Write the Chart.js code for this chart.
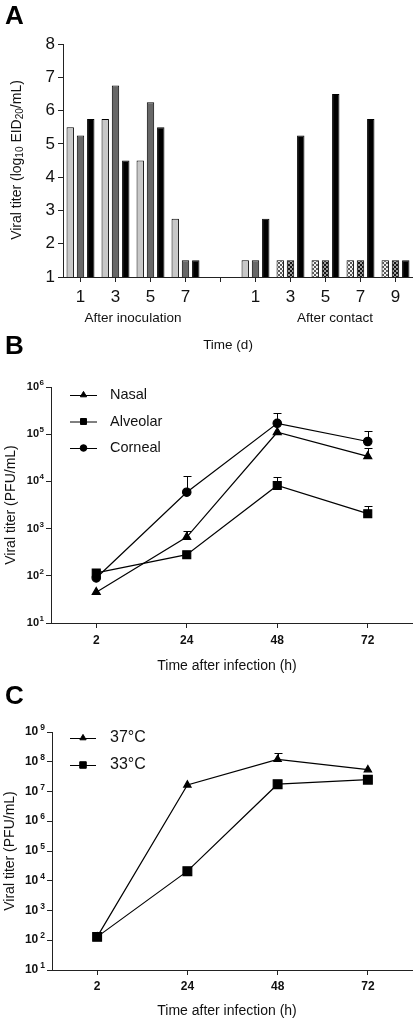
<!DOCTYPE html>
<html>
<head>
<meta charset="utf-8">
<script src="https://cdn.jsdelivr.net/npm/chart.js@4.4.1/dist/chart.umd.min.js"></script>
<style>
    body { margin: 0; background: #fff; }
    #wrap { position: relative; width: 413px; height: 1020px; overflow: hidden; }
    .box { position: absolute; left: 0; width: 413px; }
    .letter { position: absolute; left: 5px; font: bold 26px "Liberation Sans", Arial, sans-serif; line-height: 1; color: #000; }
</style>
</head>
<body>
<div id="wrap">
    <div class="box" style="top:0"><canvas id="chartA" width="413" height="355"></canvas></div>
    <div class="box" style="top:355px"><canvas id="chartB" width="413" height="320"></canvas></div>
    <div class="box" style="top:675px"><canvas id="chartC" width="413" height="345"></canvas></div>
    <div class="letter" style="top:2px">A</div>
    <div class="letter" style="top:332px">B</div>
    <div class="letter" style="top:682px">C</div>
</div>
<script>
// ---- panel A : titres (log10 EID20/mL), jours apres inoculation / contact
const daysA = ["1", "3", "5", "7", "", "1", "3", "5", "7", "9"];
const birdLight = [5.5, 5.75, 4.5, 2.75, null, 1.5, 1.5, 1.5, 1.5, 1.5];
const birdDark = [5.25, 6.75, 6.25, 1.5, null, 1.5, 1.5, 1.5, 1.5, 1.5];
const birdBlack = [5.75, 4.5, 5.5, 1.5, null, 2.75, 5.25, 6.5, 5.75, 1.5];
const checkered = [false, false, false, false, false, false, true, true, true, true];
const groupLabels = ["After inoculation", "After contact"];

// ---- panel B : PFU/mL par type cellulaire
const hoursB = ["2", "24", "48", "72"];
const nasal = [45, 660, 1.1e5, 3.4e4];
const nasalErr = [null, 900, null, 5e4];
const alveolar = [115, 280, 8200, 2070];
const alveolarErr = [130, null, 1.23e4, 2950];
const corneal = [90, 5900, 1.7e5, 7e4];
const cornealErr = [null, 1.32e4, 2.8e5, 1.17e5];
const ticksB = [1e1, 1e2, 1e3, 1e4, 1e5, 1e6];

// ---- panel C : PFU/mL selon la temperature
const hoursC = ["2", "24", "48", "72"];
const temp37 = [130, 1.66e7, 1.2e8, 5.4e7];
const temp37Err = [null, null, 2e8, null];
const temp33 = [130, 2.1e4, 1.76e7, 2.5e7];
const ticksC = [1e1, 1e2, 1e3, 1e4, 1e5, 1e6, 1e7, 1e8, 1e9];

const FONT = '"Liberation Sans", Arial, Helvetica, sans-serif';
const INK = "#111";
const AXIS = "#222";
Chart.defaults.font.family = FONT;
Chart.defaults.color = INK;

function checker(ctx, base, dots) {
    const p = document.createElement("canvas");
    p.width = 4;
    p.height = 4;
    const g = p.getContext("2d");
    g.fillStyle = base;
    g.fillRect(0, 0, 4, 4);
    g.fillStyle = dots;
    g.fillRect(0, 0, 2, 2);
    g.fillRect(2, 2, 2, 2);
    return ctx.createPattern(p, "repeat");
}

// texte simple a des positions fixes
function textPlugin(items) {
    return {
        id: "texts",
        afterDraw(chart) {
            const ctx = chart.ctx;
            ctx.save();
            ctx.fillStyle = INK;
            ctx.textBaseline = "middle";
            items.forEach((t) => {
                ctx.save();
                ctx.translate(t.x, t.y);
                if (t.rotate) ctx.rotate(-Math.PI / 2);
                // segments : [texte, taille, decalage vertical]
                const segs = t.segs || [[t.text, t.size, 0]];
                let total = 0;
                segs.forEach((s) => {
                    ctx.font = s[1] + "px " + FONT;
                    total += ctx.measureText(s[0]).width;
                });
                let x = -total / 2;
                ctx.textAlign = "left";
                segs.forEach((s) => {
                    ctx.font = s[1] + "px " + FONT;
                    ctx.fillText(s[0], x, s[2]);
                    x += ctx.measureText(s[0]).width;
                });
                ctx.restore();
            });
            ctx.restore();
        },
    };
}

// etiquettes 10^n de l'axe log
function powerLabels(gap, big, small) {
    return {
        id: "powerLabels",
        afterDraw(chart) {
            const ctx = chart.ctx;
            const s = chart.scales.y;
            const right = s.right - 7;
            ctx.save();
            ctx.fillStyle = INK;
            ctx.textBaseline = "alphabetic";
            ctx.textAlign = "left";
            s.ticks.forEach((t) => {
                const exp = String(Math.round(Math.log10(t.value)));
                const yy = s.getPixelForValue(t.value);
                ctx.font = "bold " + small + "px " + FONT;
                const we = ctx.measureText(exp).width;
                ctx.font = "bold " + big + "px " + FONT;
                const wb = ctx.measureText("10").width;
                const x0 = right - we - gap - wb;
                ctx.fillText("10", x0, yy + 3);
                ctx.font = "bold " + small + "px " + FONT;
                ctx.fillText(exp, x0 + wb + gap, yy - 2);
            });
            ctx.restore();
        },
    };
}

const errorBars = {
    id: "errorBars",
    afterDatasetsDraw(chart) {
        const ctx = chart.ctx;
        const y = chart.scales.y;
        ctx.save();
        ctx.strokeStyle = "#000";
        ctx.lineWidth = 1;
        chart.data.datasets.forEach((ds, i) => {
            if (!ds.errTop) return;
            const meta = chart.getDatasetMeta(i);
            ds.errTop.forEach((v, j) => {
                if (v == null) return;
                const pt = meta.data[j];
                const x = Math.round(pt.x) + 0.5;
                const top = Math.round(y.getPixelForValue(v)) + 0.5;
                ctx.beginPath();
                ctx.moveTo(x, pt.y);
                ctx.lineTo(x, top);
                ctx.moveTo(x - 4, top);
                ctx.lineTo(x + 4, top);
                ctx.stroke();
            });
        });
        ctx.restore();
    },
};

function lineLegend(x1, x2, tx, y0, step, size, radius) {
    return {
        id: "lineLegend",
        afterDraw(chart) {
            const ctx = chart.ctx;
            ctx.save();
            chart.data.datasets.forEach((ds, i) => {
                const yy = y0 + i * step;
                ctx.strokeStyle = "#000";
                ctx.fillStyle = "#000";
                ctx.lineWidth = 1;
                ctx.beginPath();
                ctx.moveTo(x1, yy + 0.5);
                ctx.lineTo(x2, yy + 0.5);
                ctx.stroke();
                Chart.helpers.drawPoint(ctx, { pointStyle: ds.pointStyle, radius: radius[i], rotation: 0, borderWidth: 1 }, (x1 + x2) / 2, yy);
                ctx.fillStyle = INK;
                ctx.font = size + "px " + FONT;
                ctx.textBaseline = "middle";
                ctx.textAlign = "left";
                ctx.fillText(ds.label, tx, yy);
            });
            ctx.restore();
        },
    };
}

function logAxis(min, max, ticks, width) {
    return {
        type: "logarithmic",
        min: min,
        max: max,
        afterBuildTicks: (s) => { s.ticks = ticks.map((v) => ({ value: v })); },
        afterFit: (s) => { s.width = width; },
        ticks: { display: false },
        grid: { drawOnChartArea: false, tickLength: 5, color: AXIS, tickColor: AXIS },
        border: { color: AXIS, width: 1 },
    };
}

function hourAxis(height, pad) {
    return {
        type: "category",
        offset: true,
        afterFit: (s) => { s.height = height; },
        ticks: { font: { size: 12, weight: "bold" }, padding: pad, color: INK },
        grid: { drawOnChartArea: false, offset: false, tickLength: 5, color: AXIS, tickColor: AXIS },
        border: { color: AXIS, width: 1 },
    };
}

function lineSet(label, data, err, style, radius) {
    return {
        label: label,
        data: data,
        errTop: err,
        pointStyle: style,
        pointRadius: radius,
        pointBackgroundColor: "#000",
        pointBorderColor: "#000",
        borderColor: "#000",
        borderWidth: 1.2,
        tension: 0,
        clip: false,
    };
}

window.onload = function () {
    // ---------- A
    const ctxA = document.getElementById("chartA").getContext("2d");
    const patLight = checker(ctxA, "#f2f2f2", "#5a5a5a");
    const patDark = checker(ctxA, "#9a9a9a", "#151515");
    new Chart(ctxA, {
        type: "bar",
        data: {
            labels: daysA,
            datasets: [
                { data: birdLight, backgroundColor: checkered.map((c) => (c ? patLight : "#c8c8c8")) },
                { data: birdDark, backgroundColor: checkered.map((c) => (c ? patDark : "#686868")) },
                { data: birdBlack, backgroundColor: "#000" },
            ].map((d) => Object.assign(d, { borderColor: "#000", borderWidth: 1, categoryPercentage: 0.88, barPercentage: 0.72 })),
        },
        options: {
            responsive: false,
            animation: false,
            layout: { autoPadding: false, padding: { top: 44, right: 0, left: 0, bottom: 0 } },
            plugins: { legend: { display: false }, tooltip: { enabled: false } },
            scales: {
                x: {
                    afterFit: (s) => { s.height = 78; },
                    ticks: { font: { size: 17 }, padding: 5, color: INK, autoSkip: false, maxRotation: 0 },
                    grid: { drawOnChartArea: false, offset: false, tickLength: 5, color: AXIS, tickColor: AXIS },
                    border: { color: AXIS, width: 1 },
                },
                y: {
                    min: 1,
                    max: 8,
                    afterFit: (s) => { s.width = 63; },
                    ticks: { stepSize: 1, font: { size: 17 }, padding: 3, color: INK },
                    grid: { drawOnChartArea: false, tickLength: 5, color: AXIS, tickColor: AXIS },
                    border: { color: AXIS, width: 1 },
                },
            },
        },
        plugins: [
            textPlugin([
                { x: 17, y: 160, rotate: true, segs: [["Viral titer (log", 14, 0], ["10", 10, 3], [" EID", 14, 0], ["20", 10, 3], ["/mL)", 14, 0]] },
                { x: 133, y: 318, text: groupLabels[0], size: 13.5 },
                { x: 335, y: 318, text: groupLabels[1], size: 13.5 },
                { x: 228, y: 345, text: "Time (d)", size: 13.5 },
            ]),
        ],
    });

    // ---------- B
    new Chart(document.getElementById("chartB"), {
        type: "line",
        data: {
            labels: hoursB,
            datasets: [
                lineSet("Nasal", nasal, nasalErr, "triangle", 4.6),
                lineSet("Alveolar", alveolar, alveolarErr, "rect", 5.6),
                lineSet("Corneal", corneal, cornealErr, "circle", 4.2),
            ],
        },
        options: {
            responsive: false,
            animation: false,
            layout: { autoPadding: false, padding: { top: 32, right: 0, left: 0, bottom: 0 } },
            plugins: { legend: { display: false }, tooltip: { enabled: false } },
            scales: { x: hourAxis(52, 5), y: logAxis(10, 1e6, ticksB, 51) },
        },
        plugins: [
            errorBars,
            powerLabels(0.5, 11, 8),
            lineLegend(70, 97, 110, 40, 26.5, 14.5, [3.6, 4.2, 3.3]),
            textPlugin([
                { x: 11, y: 150, rotate: true, text: "Viral titer (PFU/mL)", size: 14 },
                { x: 227, y: 311, text: "Time after infection (h)", size: 14 },
            ]),
        ],
    });

    // ---------- C
    new Chart(document.getElementById("chartC"), {
        type: "line",
        data: {
            labels: hoursC,
            datasets: [
                lineSet("37°C", temp37, temp37Err, "triangle", 4.2),
                lineSet("33°C", temp33, null, "rect", 6.2),
            ],
        },
        options: {
            responsive: false,
            animation: false,
            layout: { autoPadding: false, padding: { top: 57, right: 0, left: 0, bottom: 0 } },
            plugins: { legend: { display: false }, tooltip: { enabled: false } },
            scales: { x: hourAxis(50, 4), y: logAxis(10, 1e9, ticksC, 52) },
        },
        plugins: [
            errorBars,
            powerLabels(2, 12, 8.5),
            lineLegend(70, 96, 110, 63, 27, 16, [3.6, 4.6]),
            textPlugin([
                { x: 10, y: 176, rotate: true, text: "Viral titer (PFU/mL)", size: 14 },
                { x: 227, y: 336, text: "Time after infection (h)", size: 14 },
            ]),
        ],
    });
};
</script>
</body>
</html>
